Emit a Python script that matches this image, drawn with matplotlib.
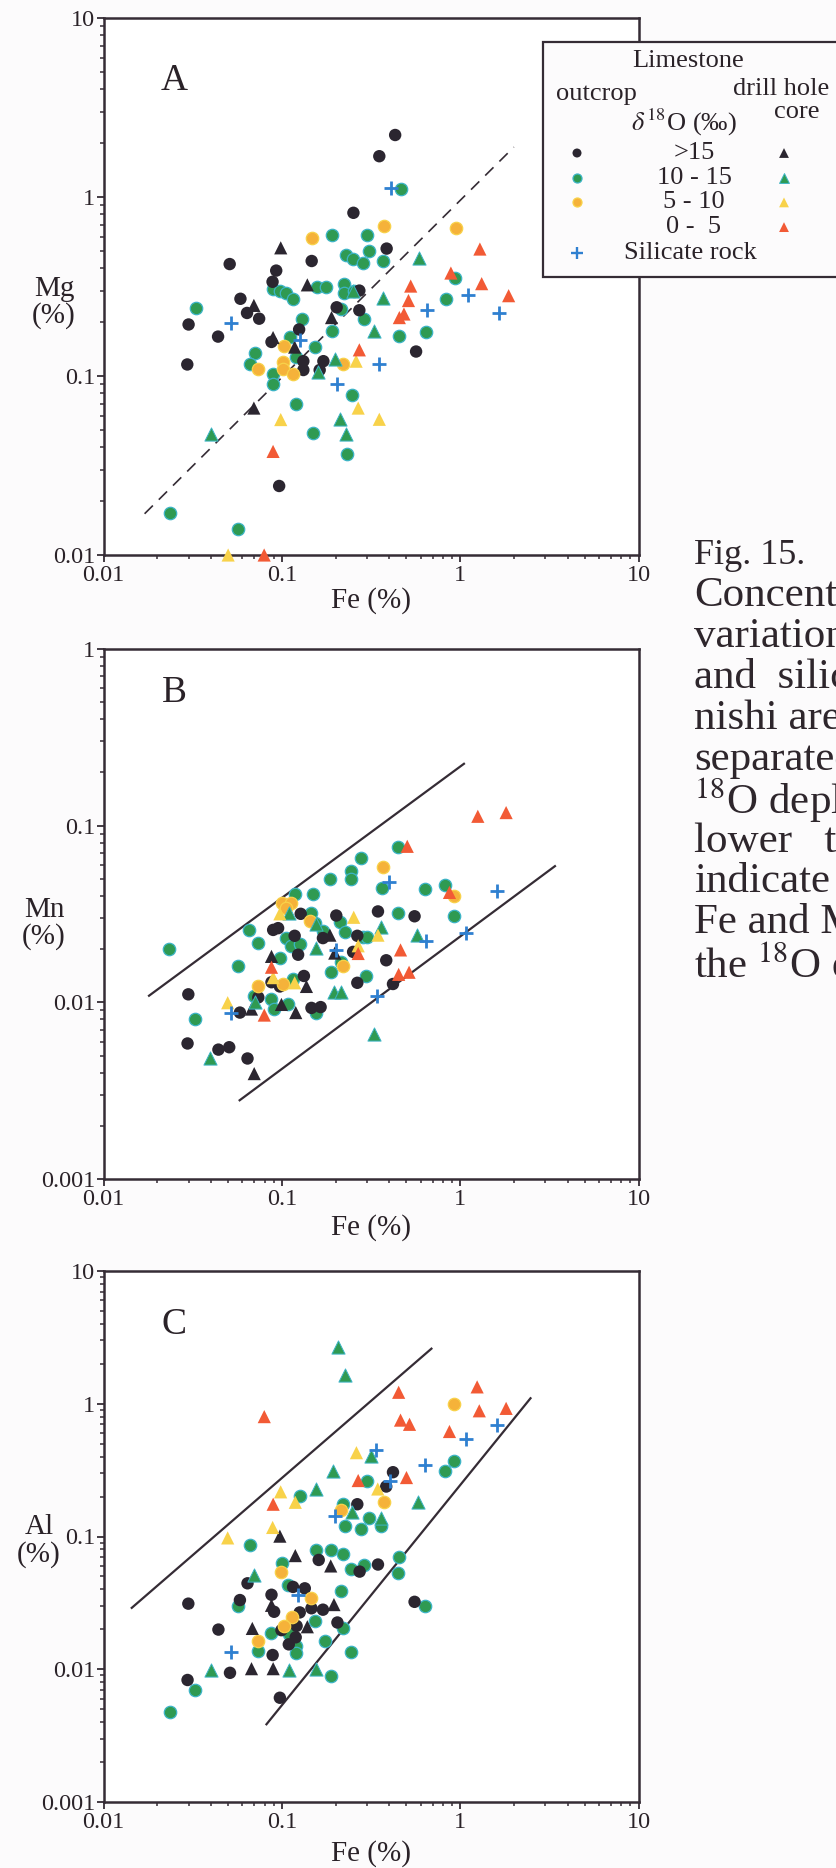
import matplotlib.pyplot as plt
from matplotlib.patches import Rectangle
from matplotlib.ticker import FuncFormatter, LogLocator, NullFormatter

plt.rcParams['font.family'] = ['Liberation Serif', 'DejaVu Serif']
plt.rcParams['mathtext.fontset'] = 'stix'

W, H = 836, 1868
INK = '#352c35'
TXT = '#2a2228'

# ---- panel A : Mg (%) vs Fe (%) ----
A_OUT_GT15 = [(0.432, 2.22), (0.352, 1.69), (0.252, 0.816), (0.387, 0.515), (0.147, 0.439),
              (0.051, 0.422), (0.093, 0.388), (0.0887, 0.336), (0.272, 0.30), (0.0586, 0.27),
              (0.0638, 0.225), (0.0746, 0.209), (0.203, 0.242), (0.272, 0.233), (0.030, 0.194),
              (0.0439, 0.166), (0.125, 0.182), (0.0875, 0.155), (0.566, 0.137), (0.0295, 0.116),
              (0.132, 0.121), (0.171, 0.121), (0.132, 0.108), (0.163, 0.108), (0.0966, 0.0243)]
A_OUT_10_15 = [(0.465, 1.11), (0.190, 0.616), (0.301, 0.610), (0.310, 0.502), (0.229, 0.472),
               (0.252, 0.45), (0.284, 0.428), (0.371, 0.439), (0.0329, 0.239), (0.0893, 0.305),
               (0.0975, 0.30), (0.106, 0.29), (0.116, 0.27), (0.157, 0.313), (0.177, 0.313),
               (0.223, 0.328), (0.223, 0.29), (0.254, 0.30), (0.216, 0.236), (0.129, 0.207),
               (0.289, 0.207), (0.19, 0.179), (0.111, 0.166), (0.153, 0.145), (0.456, 0.168),
               (0.644, 0.176), (0.834, 0.27), (0.937, 0.352), (0.0705, 0.134), (0.066, 0.116),
               (0.0887, 0.102), (0.0887, 0.0908), (0.12, 0.127), (0.12, 0.0695), (0.246, 0.0785),
               (0.15, 0.0483), (0.233, 0.0367), (0.0235, 0.0171), (0.0569, 0.014)]
A_OUT_5_10 = [(0.147, 0.593), (0.374, 0.686), (0.95, 0.672), (0.1026, 0.147), (0.0736, 0.110),
              (0.102, 0.119), (0.101, 0.110), (0.116, 0.102), (0.221, 0.116)]
A_CORE_GT15 = [(0.0986, 0.52), (0.139, 0.323), (0.0697, 0.248), (0.190, 0.212), (0.0893, 0.164),
               (0.118, 0.145), (0.0697, 0.0662)]
A_CORE_10_15 = [(0.59, 0.456), (0.368, 0.273), (0.329, 0.179), (0.25, 0.30), (0.199, 0.124),
                (0.16, 0.105), (0.212, 0.0573), (0.228, 0.0472), (0.0403, 0.0476)]
A_CORE_5_10 = [(0.261, 0.121), (0.268, 0.0662), (0.352, 0.0573), (0.0986, 0.0571), (0.05, 0.0100)]
A_CORE_0_5 = [(1.29, 0.512), (0.887, 0.376), (1.32, 0.328), (0.528, 0.318), (0.513, 0.264),
              (0.484, 0.222), (0.456, 0.212), (1.87, 0.281), (0.272, 0.14), (0.0893, 0.0379),
              (0.0796, 0.0100)]
A_SILICATE = [(0.407, 1.12), (0.052, 0.199), (0.127, 0.158), (0.65, 0.233), (1.10, 0.284),
              (1.66, 0.225), (0.351, 0.117), (0.203, 0.0908)]
A_LINE_FE = [0.017, 2.0]
A_LINE_MG = [0.017, 1.9]

# ---- panel B : Mn (%) vs Fe (%) ----
B_OUT_GT15 = [(0.0299, 0.0111), (0.0296, 0.00585), (0.0441, 0.0054), (0.0507, 0.00557),
              (0.0642, 0.00481), (0.0582, 0.00875), (0.0738, 0.01067), (0.0894, 0.0257),
              (0.0953, 0.0263), (0.1276, 0.0317), (0.118, 0.0238), (0.1234, 0.0186),
              (0.0875, 0.013), (0.0975, 0.0123), (0.133, 0.0141), (0.1466, 0.0093), (0.165, 0.0094),
              (0.170, 0.0231), (0.202, 0.031), (0.251, 0.0193), (0.265, 0.0238), (0.265, 0.0129),
              (0.346, 0.0327), (0.385, 0.0173), (0.420, 0.0127), (0.555, 0.0307)]
B_OUT_10_15 = [(0.0233, 0.0201), (0.0326, 0.00807), (0.0565, 0.016), (0.0653, 0.0257),
               (0.0737, 0.0216), (0.070, 0.0108), (0.0867, 0.0105), (0.0905, 0.00916),
               (0.1076, 0.00973), (0.0975, 0.0178), (0.106, 0.0231), (0.113, 0.0209),
               (0.126, 0.0214), (0.119, 0.0409), (0.150, 0.0413), (0.1466, 0.032), (0.1156, 0.0135),
               (0.156, 0.00875), (0.153, 0.0282), (0.170, 0.0254), (0.187, 0.0499), (0.243, 0.0552),
               (0.243, 0.0497), (0.277, 0.0659), (0.211, 0.0286), (0.225, 0.0251), (0.216, 0.017),
               (0.188, 0.0148), (0.285, 0.0234), (0.30, 0.0234), (0.298, 0.0141), (0.365, 0.0442),
               (0.448, 0.032), (0.448, 0.0757), (0.631, 0.0439), (0.817, 0.0463), (0.922, 0.031)]
B_OUT_5_10 = [(0.0996, 0.0364), (0.113, 0.0364), (0.106, 0.034), (0.1435, 0.0289), (0.0739, 0.0123),
              (0.1017, 0.0127), (0.220, 0.016), (0.369, 0.0585), (0.929, 0.040)]
B_CORE_GT15 = [(0.070, 0.00395), (0.0676, 0.00916), (0.0875, 0.0182), (0.0995, 0.00973),
               (0.1197, 0.00875), (0.1374, 0.0123), (0.186, 0.024), (0.198, 0.019)]
B_CORE_10_15 = [(0.0396, 0.00485), (0.109, 0.032), (0.156, 0.0276), (0.156, 0.0204), (0.361, 0.0266),
                (0.574, 0.024), (0.196, 0.0115), (0.216, 0.0115), (0.329, 0.00662), (0.0703, 0.010)]
B_CORE_5_10 = [(0.0497, 0.00995), (0.0975, 0.0317), (0.253, 0.0303), (0.268, 0.0209), (0.346, 0.024),
               (0.118, 0.0129), (0.0894, 0.0138)]
B_CORE_0_5 = [(1.256, 0.113), (1.81, 0.1186), (0.505, 0.0764), (0.871, 0.0419), (0.463, 0.0198),
              (0.452, 0.0144), (0.517, 0.0148), (0.268, 0.0189), (0.0875, 0.0158), (0.0797, 0.00847)]
B_SILICATE = [(0.397, 0.0481), (0.645, 0.0221), (1.08, 0.0248), (1.61, 0.0428), (0.343, 0.0109),
              (0.0519, 0.00867), (0.202, 0.0198)]
B_UPPER_FE = [0.018, 1.05]
B_UPPER_MN = [0.0109, 0.224]
B_LOWER_FE = [0.058, 3.4]
B_LOWER_MN = [0.00279, 0.059]

# ---- panel C : Al (%) vs Fe (%) ----
C_OUT_GT15 = [(0.0299, 0.0312), (0.0296, 0.0083), (0.0441, 0.0199), (0.0512, 0.0094), (0.0642, 0.0444),
              (0.0582, 0.0332), (0.0875, 0.0364), (0.0905, 0.0271), (0.0888, 0.0128), (0.0975, 0.0061),
              (0.1156, 0.0417), (0.1345, 0.0407), (0.126, 0.0268), (0.1466, 0.0288), (0.170, 0.0281),
              (0.121, 0.0212), (0.1196, 0.0174), (0.1094, 0.0154), (0.161, 0.0666), (0.205, 0.0225),
              (0.265, 0.175), (0.273, 0.0544), (0.346, 0.0615), (0.385, 0.238), (0.42, 0.305),
              (0.555, 0.0322), (0.0995, 0.0197)]
C_OUT_10_15 = [(0.0236, 0.0048), (0.0326, 0.007), (0.0565, 0.0299), (0.0663, 0.0862), (0.0735, 0.0138),
               (0.0875, 0.0188), (0.109, 0.0185), (0.1004, 0.0627), (0.1076, 0.0433), (0.1196, 0.0149),
               (0.1196, 0.0132), (0.126, 0.202), (0.156, 0.0787), (0.188, 0.0787), (0.22, 0.074),
               (0.153, 0.023), (0.174, 0.0164), (0.189, 0.00885), (0.216, 0.0388), (0.22, 0.175),
               (0.22, 0.0203), (0.245, 0.0136), (0.243, 0.0568), (0.289, 0.0615), (0.225, 0.119),
               (0.277, 0.114), (0.307, 0.137), (0.30, 0.264), (0.361, 0.121), (0.452, 0.0695),
               (0.448, 0.0527), (0.631, 0.0299), (0.817, 0.31), (0.922, 0.373)]
C_OUT_5_10 = [(0.929, 1.0), (0.373, 0.183), (0.215, 0.158), (0.0995, 0.0544), (0.1466, 0.0343),
              (0.114, 0.0249), (0.103, 0.0212), (0.0735, 0.0162)]
C_CORE_GT15 = [(0.0975, 0.1006), (0.119, 0.0718), (0.188, 0.060), (0.196, 0.0307), (0.0683, 0.0203),
               (0.139, 0.0209), (0.0676, 0.0101), (0.0894, 0.0101), (0.0875, 0.0303)]
C_CORE_10_15 = [(0.207, 2.68), (0.225, 1.64), (0.318, 0.402), (0.194, 0.31), (0.156, 0.228),
                (0.247, 0.152), (0.361, 0.137), (0.58, 0.181), (0.070, 0.0511), (0.0401, 0.0099),
                (0.109, 0.0099), (0.156, 0.010)]
C_CORE_5_10 = [(0.0497, 0.0976), (0.0888, 0.117), (0.0985, 0.217), (0.119, 0.181), (0.262, 0.428),
               (0.345, 0.228)]
C_CORE_0_5 = [(1.245, 1.34), (0.452, 1.22), (1.28, 0.885), (1.81, 0.923), (0.463, 0.753), (0.52, 0.70),
              (0.871, 0.618), (0.50, 0.278), (0.268, 0.264), (0.0894, 0.175), (0.0797, 0.80)]
C_SILICATE = [(1.61, 0.691), (1.08, 0.547), (0.638, 0.345), (0.339, 0.449), (0.402, 0.261),
              (0.198, 0.143), (0.123, 0.0364), (0.0522, 0.0136)]
C_UPPER_FE = [0.0144, 0.69]
C_UPPER_AL = [0.029, 2.6]
C_LOWER_FE = [0.082, 2.48]
C_LOWER_AL = [0.00385, 1.1]

LEGEND_ROWS = ['>15', '10 - 15', '5 - 10', '0 -  5']
CAPTION = ['Fig. 15.', 'Concentration', 'variations', 'and  silicate', 'nishi area',
           'separated', r'$^{18}$O depleted', 'lower   than', 'indicate', 'Fe and Mn',
           r'the $^{18}$O depleted']

BLACK = '#2b2630'
GREEN = '#2f9a52'
CYAN = '#3cb4c6'
ORANGE = '#f5b23a'
YELLOW = '#f8d24a'
RED = '#f25a35'
BLUE = '#2f80d0'

STYLES = {
    'out_gt15': dict(marker='o', s=80, c=BLACK, edgecolors='none'),
    'out_10_15': dict(marker='o', s=80, c=GREEN, edgecolors=CYAN, linewidths=0.9),
    'out_5_10': dict(marker='o', s=80, c=ORANGE, edgecolors=YELLOW, linewidths=0.9),
    'core_gt15': dict(marker='^', s=90, c=BLACK, edgecolors='none'),
    'core_10_15': dict(marker='^', s=90, c=GREEN, edgecolors=CYAN, linewidths=0.7),
    'core_5_10': dict(marker='^', s=90, c=YELLOW, edgecolors='none'),
    'core_0_5': dict(marker='^', s=90, c=RED, edgecolors='none'),
    'silicate': dict(marker='+', s=110, c=BLUE, linewidths=2),
}


def axes_box(top, bottom, left=103.5, right=638.5):
    return [left / W, 1 - bottom / H, (right - left) / W, (bottom - top) / H]


def style_axes(ax, ylim, labelpad):
    ax.set_xscale('log')
    ax.set_yscale('log')
    ax.set_xlim(0.01, 10)
    ax.set_ylim(*ylim)
    fmt = FuncFormatter(lambda v, _: f'{v:g}')
    for axis in (ax.xaxis, ax.yaxis):
        axis.set_major_locator(LogLocator(base=10, numticks=10))
        axis.set_minor_locator(LogLocator(base=10, subs=range(2, 10), numticks=10))
        axis.set_major_formatter(fmt)
        axis.set_minor_formatter(NullFormatter())
    for sp in ax.spines.values():
        sp.set_linewidth(1.8)
        sp.set_color(INK)
    ax.tick_params(which='major', direction='out', length=5, width=1.3, colors=INK,
                   labelsize=17.5, labelcolor=TXT)
    ax.tick_params(which='minor', direction='out', length=3, width=1.1, colors=INK)
    ax.tick_params(axis='y', pad=1)
    ax.tick_params(axis='x', pad=2)
    ax.set_xlabel('Fe (%)', fontsize=21, color=TXT, labelpad=labelpad)


def draw_groups(ax, groups):
    for key, pts in groups:
        xs, ys = zip(*pts)
        ax.scatter(xs, ys, zorder=3, clip_on=False, **STYLES[key])


fig = plt.figure(figsize=(W / 100, H / 100), dpi=100)
fig.patch.set_facecolor('#fcfbfc')

axA = fig.add_axes(axes_box(18, 555))
axB = fig.add_axes(axes_box(649, 1179))
axC = fig.add_axes(axes_box(1271, 1802))

draw_groups(axA, [('out_10_15', A_OUT_10_15), ('out_gt15', A_OUT_GT15), ('out_5_10', A_OUT_5_10),
                  ('core_gt15', A_CORE_GT15), ('core_10_15', A_CORE_10_15), ('core_5_10', A_CORE_5_10),
                  ('core_0_5', A_CORE_0_5), ('silicate', A_SILICATE)])
axA.plot(A_LINE_FE, A_LINE_MG, color=INK, lw=1.2, dashes=(7, 5))
style_axes(axA, (0.01, 10), 1)

draw_groups(axB, [('out_10_15', B_OUT_10_15), ('out_gt15', B_OUT_GT15), ('out_5_10', B_OUT_5_10),
                  ('core_gt15', B_CORE_GT15), ('core_10_15', B_CORE_10_15), ('core_5_10', B_CORE_5_10),
                  ('core_0_5', B_CORE_0_5), ('silicate', B_SILICATE)])
axB.plot(B_UPPER_FE, B_UPPER_MN, color=INK, lw=1.6)
axB.plot(B_LOWER_FE, B_LOWER_MN, color=INK, lw=1.6)
style_axes(axB, (0.001, 1), 3)

draw_groups(axC, [('out_10_15', C_OUT_10_15), ('out_gt15', C_OUT_GT15), ('out_5_10', C_OUT_5_10),
                  ('core_gt15', C_CORE_GT15), ('core_10_15', C_CORE_10_15), ('core_5_10', C_CORE_5_10),
                  ('core_0_5', C_CORE_0_5), ('silicate', C_SILICATE)])
axC.plot(C_UPPER_FE, C_UPPER_AL, color=INK, lw=1.6)
axC.plot(C_LOWER_FE, C_LOWER_AL, color=INK, lw=1.6)
style_axes(axC, (0.001, 10), 5)

# overlay in pixel units for labels, legend box and the caption column
ov = fig.add_axes([0, 0, 1, 1])
ov.set_xlim(0, W)
ov.set_ylim(H, 0)
ov.axis('off')
ov.patch.set_visible(False)

for letter, y in [('A', 81), ('B', 693), ('C', 1325)]:
    ov.text(174, y, letter, fontsize=27, color=TXT, ha='center', va='center')

for label, x, y1, y2 in [('Mg', 54, 289, 316), ('Mn', 44, 910, 937), ('Al', 39, 1527, 1555)]:
    ov.text(x, y1, label, fontsize=21, color=TXT, ha='center', va='center')
    ov.text(x, y2, '(%)', fontsize=21, color=TXT, ha='center', va='center')

ov.add_patch(Rectangle((543, 42), 400, 235, facecolor='#fcfbfc', edgecolor=INK, lw=1.6, zorder=5))
tk = dict(fontsize=19, color=TXT, ha='center', va='center', zorder=6)
ov.text(688, 61, 'Limestone', **tk)
ov.text(596, 94, 'outcrop', **tk)
ov.text(781, 89, 'drill hole', **tk)
ov.text(797, 112, 'core', **tk)
ov.text(684, 122, r'$\delta\,^{18}$O (‰)', **tk)
row_keys = [('out_gt15', 'core_gt15'), ('out_10_15', 'core_10_15'), ('out_5_10', 'core_5_10'),
            (None, 'core_0_5')]
for i, (lab, (ck, tkey)) in enumerate(zip(LEGEND_ROWS, row_keys)):
    y = 153 + i * 24.7
    ov.text(694, y, lab, **tk)
    if ck:
        st = dict(STYLES[ck])
        st['s'] = 42
        ov.scatter([577], [y], zorder=6, **st)
    st = dict(STYLES[tkey])
    st['s'] = 50
    ov.scatter([784], [y], zorder=6, **st)
ov.text(690, 253, 'Silicate rock', **tk)
st = dict(STYLES['silicate'])
st['s'] = 65
st['linewidths'] = 1.7
ov.scatter([577], [253], zorder=6, **st)

for i, line in enumerate(CAPTION):
    ov.text(694, 555 + i * 40.9, line, fontsize=26 if i == 0 else 31, color='#2e262c',
            ha='left', va='center', clip_on=False)

fig.savefig('out.png', dpi=100, facecolor=fig.get_facecolor())
